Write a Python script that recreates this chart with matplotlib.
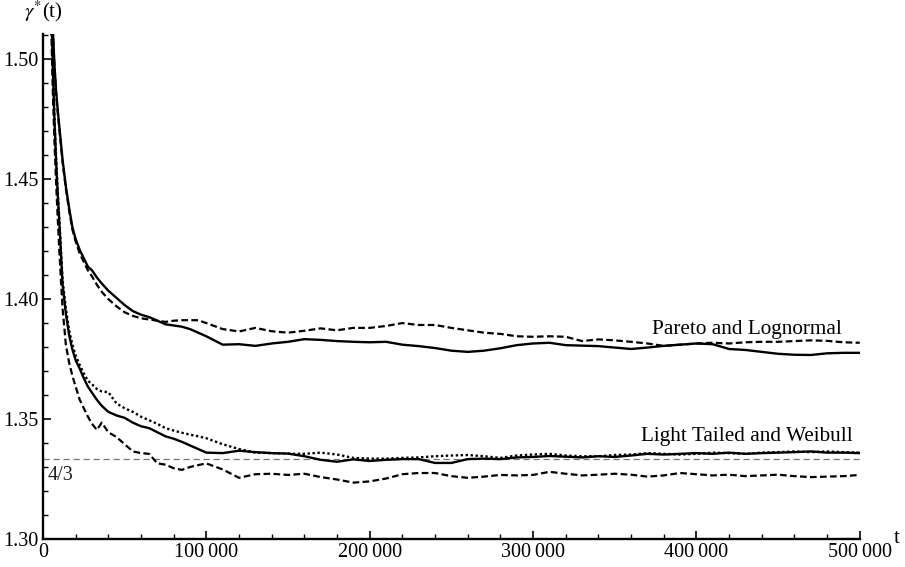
import numpy as np
import matplotlib
matplotlib.use('Agg')
import matplotlib.pyplot as plt
from matplotlib.ticker import MultipleLocator, FuncFormatter

plt.rcParams['font.family'] = ['Liberation Serif', 'DejaVu Serif']
plt.rcParams['mathtext.fontset'] = 'stix'

# t in thousands
t_k = [4, 5, 6, 7, 8, 9, 10, 12, 14, 16, 18, 20, 22.5, 25, 27.5, 30, 33, 36, 40, 45,
       50, 55, 60, 65, 70, 75, 80, 85, 90, 95, 100,
       110, 120, 130, 140, 150, 160, 170, 180, 190, 200,
       210, 220, 230, 240, 250, 260, 270, 280, 290, 300,
       310, 320, 330, 340, 350, 360, 370, 380, 390, 400,
       410, 420, 430, 440, 450, 460, 470, 480, 490, 500]

pareto = [1.585, 1.545, 1.513, 1.498, 1.487, 1.479, 1.472, 1.458, 1.447, 1.438, 1.430, 1.425,
          1.4205, 1.417, 1.4135, 1.412, 1.409, 1.4065, 1.4035, 1.4005,
          1.3975, 1.395, 1.3935, 1.3925, 1.391, 1.3895, 1.389, 1.3885, 1.3875, 1.386, 1.3845,
          1.381, 1.3812, 1.3805, 1.3815, 1.3822, 1.3833, 1.383, 1.3825, 1.3822, 1.382,
          1.3822, 1.381, 1.3804, 1.3796, 1.3785, 1.378, 1.3785, 1.3795, 1.3808, 1.3815,
          1.3818, 1.3808, 1.3806, 1.3804, 1.3798, 1.3792, 1.3798, 1.3805, 1.381, 1.3815,
          1.3812, 1.3792, 1.3788, 1.378, 1.3772, 1.3768, 1.3767, 1.3774, 1.3776, 1.3776]

lognormal = [1.585, 1.545, 1.512, 1.497, 1.486, 1.478, 1.471, 1.457, 1.446, 1.437, 1.429, 1.424,
             1.419, 1.4155, 1.412, 1.4095, 1.406, 1.403, 1.400, 1.397,
             1.3945, 1.393, 1.392, 1.3915, 1.391, 1.3905, 1.391, 1.3912, 1.3912, 1.3912, 1.390,
             1.3875, 1.3865, 1.388, 1.3866, 1.386, 1.3868, 1.3878, 1.387, 1.388, 1.388,
             1.3888, 1.390, 1.3892, 1.3892, 1.388, 1.387, 1.386, 1.3855, 1.3845, 1.3843,
             1.3845, 1.3843, 1.3825, 1.3832, 1.3828, 1.3822, 1.3815, 1.3805, 1.381, 1.3815,
             1.3818, 1.3815, 1.382, 1.3822, 1.3822, 1.3825, 1.3828, 1.3826, 1.382, 1.3818]

light_solid = [1.56, 1.525, 1.497, 1.475, 1.458, 1.444, 1.432, 1.406, 1.394, 1.385, 1.379, 1.3745,
               1.371, 1.367, 1.3635, 1.361, 1.358, 1.3555, 1.353, 1.3515,
               1.3505, 1.3485, 1.347, 1.3462, 1.3445, 1.3428, 1.3418, 1.3405, 1.339, 1.3375, 1.336,
               1.3358, 1.3368, 1.3362, 1.3358, 1.3356, 1.3345, 1.333, 1.3322, 1.3332, 1.3325,
               1.333, 1.3333, 1.3333, 1.3317, 1.3317, 1.3333, 1.3335, 1.3333, 1.334, 1.3342,
               1.3346, 1.3343, 1.334, 1.3345, 1.3342, 1.3348, 1.3355, 1.3352, 1.3355, 1.3358,
               1.3355, 1.336, 1.3355, 1.3358, 1.336, 1.3362, 1.3365, 1.336, 1.336, 1.3358]

light_dotted = [1.56, 1.525, 1.497, 1.476, 1.459, 1.445, 1.433, 1.408, 1.396, 1.387, 1.381, 1.3765,
                1.3725, 1.369, 1.366, 1.3645, 1.3625, 1.3615, 1.3612, 1.3565,
                1.3545, 1.353, 1.351, 1.3495, 1.348, 1.3462, 1.3452, 1.3443, 1.3435, 1.3428, 1.342,
                1.3395, 1.3375, 1.336, 1.3358, 1.3356, 1.3355, 1.336, 1.3352, 1.3338, 1.3335,
                1.3335, 1.3338, 1.334, 1.3345, 1.3348, 1.335, 1.3345, 1.3338, 1.3348, 1.3352,
                1.3355, 1.3348, 1.3345, 1.3345, 1.335, 1.3352, 1.3358, 1.3355, 1.3352, 1.3355,
                1.336, 1.3358, 1.3355, 1.336, 1.3362, 1.3365, 1.3362, 1.3365, 1.3362, 1.336]

weibull = [1.55, 1.515, 1.487, 1.466, 1.449, 1.434, 1.42, 1.396, 1.381, 1.3735, 1.368, 1.3635,
           1.358, 1.3545, 1.351, 1.348, 1.3455, 1.3485, 1.3445, 1.3425,
           1.3395, 1.3365, 1.3358, 1.3355, 1.3315, 1.331, 1.3295, 1.3288, 1.330, 1.3308, 1.3315,
           1.329, 1.3255, 1.327, 1.3272, 1.3267, 1.3272, 1.3258, 1.3248, 1.3235, 1.324,
           1.3252, 1.327, 1.3275, 1.3275, 1.3262, 1.3255, 1.326, 1.3267, 1.3265, 1.3267,
           1.328, 1.3272, 1.3265, 1.3268, 1.3272, 1.3268, 1.326, 1.3265, 1.3275, 1.327,
           1.3265, 1.3268, 1.3262, 1.3265, 1.3268, 1.3262, 1.3258, 1.326, 1.3262, 1.3267]

t = np.array(t_k) * 1000

fig = plt.figure(figsize=(9.05, 5.67), dpi=100)
ax = fig.add_axes([0.0475, 0.0494, 0.9025, 0.8906])

ax.axhline(4 / 3, color='#777777', lw=0.9, ls=(0, (5, 3)), zorder=1)

ax.plot(t, pareto, color='black', lw=1.7)
ax.plot(t, lognormal, color='black', lw=1.6, ls=(0, (3, 1.5)))
ax.plot(t, light_dotted, color='black', lw=1.7, ls=(0, (1, 1.1)))
ax.plot(t, light_solid, color='black', lw=1.7)
ax.plot(t, weibull, color='black', lw=1.6, ls=(0, (3, 1.5)))

ax.text(489000, 1.3872, 'Pareto and Lognormal', ha='right', va='center', fontsize=15.3)
ax.text(496000, 1.3427, 'Light Tailed and Weibull', ha='right', va='center', fontsize=15.3)
ax.text(3000, 1.3266, '4/3', ha='left', va='center', fontsize=14.5, color='#222222')

ax.set_xlim(0, 500000)
ax.set_ylim(1.30, 1.5105)
ax.xaxis.set_major_locator(MultipleLocator(100000))
ax.xaxis.set_minor_locator(MultipleLocator(20000))
ax.yaxis.set_major_locator(MultipleLocator(0.05))
ax.yaxis.set_minor_locator(MultipleLocator(0.01))
ax.xaxis.set_major_formatter(FuncFormatter(
    lambda v, p: '0' if v == 0 else '{:,.0f}'.format(v).replace(',', '\u2009')))
ax.yaxis.set_major_formatter(FuncFormatter(lambda v, p: '{:.2f}'.format(v)))

for s in ['top', 'right']:
    ax.spines[s].set_visible(False)
for s in ['left', 'bottom']:
    ax.spines[s].set_linewidth(1.7)
ax.tick_params(which='major', direction='in', length=6, width=1.2, labelsize=14.5, pad=3)
ax.tick_params(which='minor', direction='in', length=3.5, width=1.0)

ax.text(0.0, 1.045, r'$\gamma^{*}$(t)', transform=ax.transAxes, ha='center', va='center', fontsize=15)
ax.text(1.045, 0.0, 't', transform=ax.transAxes, ha='center', va='center', fontsize=15)

fig.savefig('out.png', dpi=100)
